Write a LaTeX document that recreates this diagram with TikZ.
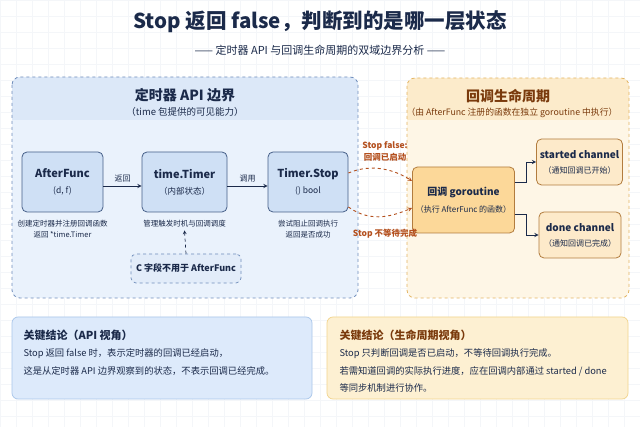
\documentclass[tikz,border=0pt]{standalone}
\usepackage{fontspec}
\setmainfont{Noto Sans CJK SC}
\usetikzlibrary{positioning}
\definecolor{navy}{HTML}{1B2A4A}
\definecolor{nodeline}{HTML}{465F88}
\definecolor{nodefill}{HTML}{CFE0F5}
\definecolor{bluebg}{HTML}{EAF2FC}
\definecolor{bluehead}{HTML}{DCE8F8}
\definecolor{bluedash}{HTML}{6F8DBB}
\definecolor{cfill}{HTML}{E2ECF9}
\definecolor{orangebg}{HTML}{FEF6E6}
\definecolor{orangehead}{HTML}{FCEBCB}
\definecolor{orangedash}{HTML}{E3B461}
\definecolor{gorfill}{HTML}{FCD899}
\definecolor{chanfill}{HTML}{FDEACA}
\definecolor{brownline}{HTML}{B27C3E}
\definecolor{browntext}{HTML}{7A3A0C}
\definecolor{redorange}{HTML}{B4501E}
\definecolor{bluecard}{HTML}{DDEAFB}
\definecolor{bluecardline}{HTML}{A9C6EA}
\definecolor{orangecard}{HTML}{FDF0D2}
\definecolor{orangecardline}{HTML}{F2D48D}
\definecolor{gridc}{HTML}{F4F6F9}
\newcommand{\fsz}[2]{\fontsize{#1}{#2}\selectfont}
\newcommand{\tname}[1]{{\bfseries\fsz{11}{13}#1}}
\newcommand{\tsub}[1]{{\fsz{8.5}{10}#1}}
\begin{document}
\begin{tikzpicture}[x=1pt, y=-1pt, >=stealth,
  box/.style={draw=nodeline, fill=nodefill, rounded corners=5pt, line width=0.8pt,
    align=center, text=navy},
  obox/.style={draw=brownline, fill=#1, rounded corners=5pt, line width=0.8pt,
    align=center, text=navy},
  note/.style={font=\fsz{7.5}{11}, text=navy, align=center},
  flow/.style={->, draw=navy, line width=0.9pt},
  oflow/.style={->, draw=redorange, dashed, line width=0.9pt},
  olabel/.style={font=\bfseries\fsz{8.5}{12}, text=redorange, align=center},
  keytitle/.style={anchor=west, font=\bfseries\fsz{11}{13}},
  keyline/.style={anchor=west, font=\fsz{9.3}{12}, text=navy}]
  \useasboundingbox (0,0) rectangle (640,427);
  \fill[white] (0,0) rectangle (640,427);
  \draw[gridc, step=16pt] (0,0) grid (640,427);

  \node[font=\bfseries\fsz{20.5}{24}, text=navy] (title) at (320,22) {Stop 返回 false，判断到的是哪一层状态};
  \node[font=\fsz{11}{13}, text=navy] (subtitle) at (320,50) {—— 定时器 API 与回调生命周期的双域边界分析 ——};

  \fill[bluebg, rounded corners=8pt] (12,77) rectangle (358,298);
  \begin{scope}
    \clip[rounded corners=8pt] (12,77) rectangle (358,298);
    \fill[bluehead] (12,77) rectangle (358,120);
  \end{scope}
  \draw[bluedash, dashed, rounded corners=8pt, line width=0.8pt] (12,77) rectangle (358,298);
  \node[font=\bfseries\fsz{14}{16}, text=navy] (apititle) at (185,95) {定时器 API 边界};
  \node[font=\fsz{9.5}{12}, text=navy] (apisub) at (185,112) {（time 包提供的可见能力）};

  \fill[orangebg, rounded corners=8pt] (407,78) rectangle (629,298);
  \begin{scope}
    \clip[rounded corners=8pt] (407,78) rectangle (629,298);
    \fill[orangehead] (407,78) rectangle (629,120);
  \end{scope}
  \draw[orangedash, dashed, rounded corners=8pt, line width=0.8pt] (407,78) rectangle (629,298);
  \node[font=\bfseries\fsz{14}{16}, text=browntext] (lifetitle) at (508,96) {回调生命周期};
  \node[font=\fsz{8.8}{11}, text=browntext] (lifesub) at (512,113) {（由 AfterFunc 注册的函数在独立 goroutine 中执行）};

  \node[box, minimum width=81, minimum height=60] (afterfunc) at (62.5,182) {\tname{AfterFunc}\\[4pt]\tsub{(d, f)}};
  \node[box, minimum width=85, minimum height=60] (timer) at (184.5,182) {\tname{time.Timer}\\[4pt]\tsub{（内部状态）}};
  \node[box, minimum width=80, minimum height=60] (stop) at (308,182) {\tname{Timer.Stop}\\[4pt]\tsub{() bool}};

  \draw[flow] ([yshift=-4pt]afterfunc.east) -- ([yshift=-4pt]timer.west)
    node[midway, above, font=\fsz{8}{10}, text=navy] {返回};
  \draw[flow] ([yshift=-4pt]timer.east) -- ([yshift=-4pt]stop.west)
    node[midway, above, font=\fsz{8}{10}, text=navy] {调用};

  \node[note, below=4pt of afterfunc] (afternote) {创建定时器并注册回调函数\\返回 *time.Timer};
  \node[note, below=4pt of timer] (timernote) {管理触发时机与回调调度};
  \node[note, below=4pt of stop] (stopnote) {尝试阻止回调执行\\返回是否成功};

  \node[draw=bluedash, dashed, fill=cfill, rounded corners=5pt, line width=0.7pt,
    minimum width=110, minimum height=29, font=\bfseries\fsz{9}{11}, text=navy] (cfield) at (186,268.5) {C 字段不用于 AfterFunc};
  \draw[->, dashed, navy, line width=0.7pt] (cfield.north) -- (timernote.south);

  \node[obox=gorfill, minimum width=95, minimum height=66] (gor) at (463.5,200) {{\bfseries\fsz{10}{12}回调 goroutine}\\[5pt]{\fsz{8}{10}（执行 AfterFunc 的函数）}};
  \node[obox=chanfill, minimum width=81, minimum height=46] (started) at (579.5,162) {{\bfseries\fsz{10}{12}started channel}\\[3pt]{\fsz{8}{10}（通知回调已开始）}};
  \node[obox=chanfill, minimum width=82, minimum height=46] (done) at (580,235) {{\bfseries\fsz{10}{12}done channel}\\[3pt]{\fsz{8}{10}（通知回调已完成）}};

  \draw[flow] ([yshift=18pt]gor.east) -- ++(11,0) |- (started.west);
  \draw[flow] ([yshift=-14pt]gor.east) -- ++(11,0) |- (done.west);

  \draw[oflow] ([yshift=9pt]stop.east) .. controls (372,163) and (395,170) .. ([yshift=19pt]gor.west);
  \draw[oflow] ([yshift=-25pt]stop.east) .. controls (372,224) and (395,215) .. ([yshift=-8pt]gor.west);
  \node[olabel] (stopfalse) at (385,151) {Stop false:\\回调已启动};
  \node[olabel] (stopnowait) at (385,234) {Stop 不等待完成};

  \node[fill=bluecard, draw=bluecardline, rounded corners=6pt, line width=0.7pt,
    minimum width=300, minimum height=82] (apicard) at (162,358) {};
  \node[keytitle, text=navy] (apikey) at (20,335) {关键结论（API 视角）};
  \node[keyline] (apiline1) at (20,354) {Stop 返回 false 时，表示定时器的回调已经启动，};
  \node[keyline] (apiline2) at (20,371) {这是从定时器 API 边界观察到的状态，不表示回调已经完成。};

  \node[fill=orangecard, draw=orangecardline, rounded corners=6pt, line width=0.7pt,
    minimum width=301, minimum height=82] (lifecard) at (477.5,358) {};
  \node[keytitle, text=browntext] (lifekey) at (336,335) {关键结论（生命周期视角）};
  \node[keyline] (lifeline1) at (336,354) {Stop 只判断回调是否已启动，不等待回调执行完成。};
  \node[keyline] (lifeline2) at (336,371) {若需知道回调的实际执行进度，应在回调内部通过 started / done};
  \node[keyline] (lifeline3) at (336,388) {等同步机制进行协作。};
\end{tikzpicture}
\end{document}
